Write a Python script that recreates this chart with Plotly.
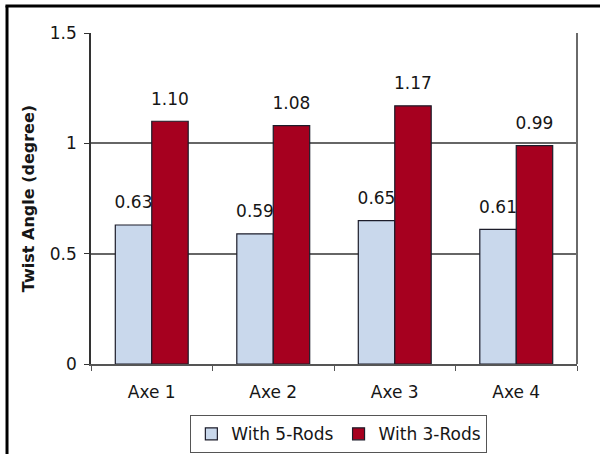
import plotly.graph_objects as go

categories = ["Axe 1", "Axe 2", "Axe 3", "Axe 4"]
five_rods = [0.63, 0.59, 0.65, 0.61]
three_rods = [1.10, 1.08, 1.17, 0.99]
series_names = ["With 5-Rods", "With 3-Rods"]
y_ticks = [0, 0.5, 1, 1.5]
y_tick_labels = ["0", "0.5", "1", "1.5"]

FONT = "DejaVu Sans, Arial, sans-serif"
LIGHT = "#c9d8ec"
DARK_RED = "#a6001f"
OUTLINE = "#1c1c2a"
TEXT = "#161616"

fig = go.Figure()

for name, vals, color in [(series_names[0], five_rods, LIGHT),
                          (series_names[1], three_rods, DARK_RED)]:
    fig.add_trace(go.Bar(
        x=categories, y=vals, name=name,
        marker=dict(color=color, line=dict(color=OUTLINE, width=1.2)),
    ))

# value labels, grouped the same way as the bars and lifted by a hidden marker
for vals in (five_rods, three_rods):
    fig.add_trace(go.Scatter(
        x=categories, y=vals, mode="markers+text",
        text=[f"{v:.2f}" for v in vals], textposition="top center",
        textfont=dict(family=FONT, size=17, color=TEXT),
        marker=dict(size=18, color="rgba(0,0,0,0)"),
        showlegend=False, hoverinfo="skip", cliponaxis=False,
    ))

# surrounding frame on the left and top edges of the page
frame = dict(type="line", xref="paper", yref="paper",
             line=dict(color="black", width=3), layer="above")
fig.add_shape(**frame, x0=-0.1728, x1=-0.1728, y0=1.082, y1=-0.32)
fig.add_shape(**frame, x0=-0.176, x1=1.1, y0=1.0818, y1=1.0818)
# right edge of the plot area
fig.add_shape(type="line", xref="paper", yref="paper", x0=1, x1=1, y0=0, y1=1,
              line=dict(color="#6a6a6a", width=2))

fig.update_layout(
    width=600, height=454,
    margin=dict(l=91, r=23, t=33, b=90, autoexpand=False),
    paper_bgcolor="white", plot_bgcolor="white",
    barmode="group", bargap=0.4, bargroupgap=0,
    scattermode="group", scattergap=0.4,
    font=dict(family=FONT, size=17, color=TEXT),
    showlegend=True,
    legend=dict(orientation="h", x=0.51, xanchor="center", y=-0.155, yanchor="top",
                bordercolor="#555", borderwidth=1, font=dict(size=17, color=TEXT),
                itemwidth=30, tracegroupgap=0),
    xaxis=dict(showline=True, linecolor="#555", linewidth=2, automargin=False,
               ticks="outside", tickson="boundaries", ticklen=5, tickcolor="#555",
               ticklabelstandoff=12, tickfont=dict(size=17, color=TEXT),
               showgrid=False),
    yaxis=dict(range=[0, 1.5], tickvals=y_ticks, ticktext=y_tick_labels,
               showline=True, linecolor="#333", linewidth=1.5, automargin=False,
               ticks="outside", ticklen=5, tickcolor="#333",
               ticklabelstandoff=4, tickfont=dict(size=17, color=TEXT),
               showgrid=True, gridcolor="#666", gridwidth=1.5, zeroline=False,
               title=dict(text="<b>Twist Angle (degree)</b>", standoff=11,
                          font=dict(size=16, color=TEXT))),
)

fig.write_html("out.html")
